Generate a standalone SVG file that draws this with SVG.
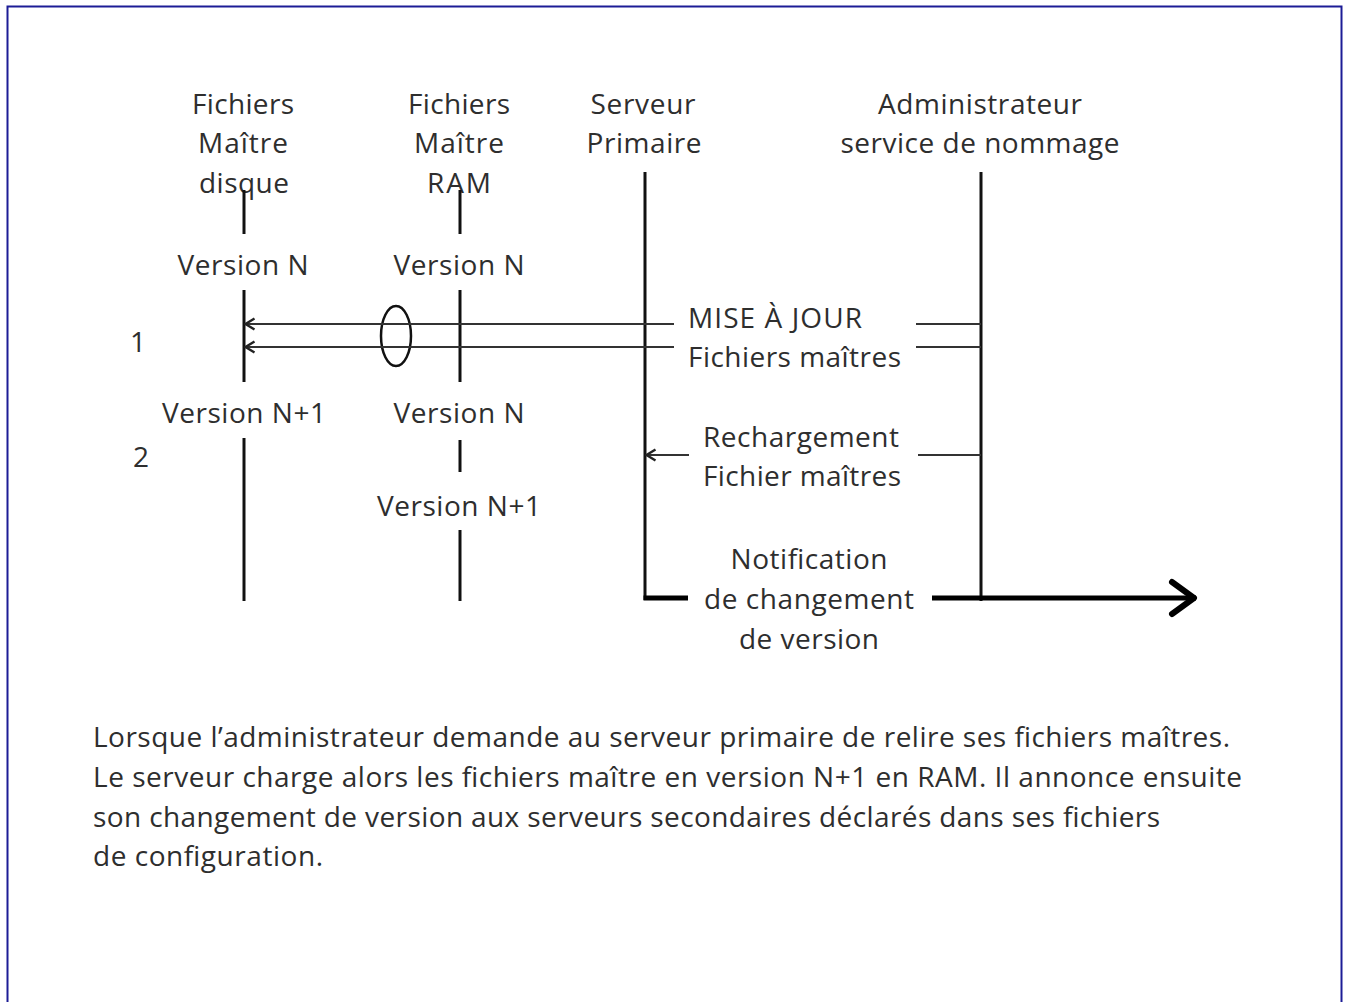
<svg xmlns="http://www.w3.org/2000/svg" width="1346" height="1002" viewBox="0 0 1346 1002">
<defs>
<style>
text{font-family:"Open Sans",Lato,"Liberation Sans",sans-serif;font-size:28px;fill:#2e2e2e}
.c{text-anchor:middle}
.life{stroke:#111;stroke-width:3;fill:none}
.thin{stroke:#333;stroke-width:1.8;fill:none}
.thick{stroke:#000;stroke-width:5;fill:none}
</style>
<marker id="open" viewBox="0 0 12 14" refX="11" refY="7" markerWidth="12" markerHeight="14" markerUnits="userSpaceOnUse" orient="auto">
<path d="M1.5,1.5 L10.5,7 L1.5,12.5" fill="none" stroke="#222" stroke-width="2.4"/>
</marker>
<marker id="big" viewBox="0 0 30 40" refX="28" refY="20" markerWidth="30" markerHeight="40" markerUnits="userSpaceOnUse" orient="auto">
<path d="M4,4 L26,20 L4,36" fill="none" stroke="#000" stroke-width="6" stroke-linecap="round" stroke-linejoin="round"/>
</marker>
</defs>
<rect x="7.5" y="6.5" width="1334" height="1010" fill="#fff" stroke="#1c1c96" stroke-width="2"/>

<g id="col-disque">
<text class="c" x="243" y="114" textLength="102">Fichiers</text>
<text class="c" x="243" y="153" textLength="90">Maître</text>
<text class="c" x="244" y="193" textLength="90">disque</text>
<line class="life" x1="244" y1="190" x2="244" y2="234"/>
<text class="c" x="243" y="275" textLength="131">Version N</text>
<line class="life" x1="244" y1="290" x2="244" y2="382"/>
<text class="c" x="244" y="423" textLength="164">Version N+1</text>
<line class="life" x1="244" y1="438" x2="244" y2="601"/>
</g>

<g id="col-ram">
<text class="c" x="459" y="114" textLength="102">Fichiers</text>
<text class="c" x="459" y="153" textLength="90">Maître</text>
<text class="c" x="459" y="193" textLength="64">RAM</text>
<line class="life" x1="460" y1="190" x2="460" y2="234"/>
<text class="c" x="459" y="275" textLength="131">Version N</text>
<line class="life" x1="460" y1="290" x2="460" y2="382"/>
<text class="c" x="459" y="423" textLength="131">Version N</text>
<line class="life" x1="460" y1="440" x2="460" y2="472"/>
<text class="c" x="459" y="516" textLength="164">Version N+1</text>
<line class="life" x1="460" y1="530" x2="460" y2="601"/>
</g>

<g id="col-serveur">
<text class="c" x="643" y="114" textLength="105">Serveur</text>
<text class="c" x="644" y="153" textLength="115">Primaire</text>
<line class="life" x1="645" y1="172" x2="645" y2="600"/>
</g>

<g id="col-admin">
<text class="c" x="980" y="114" textLength="204">Administrateur</text>
<text class="c" x="980" y="153" textLength="279">service de nommage</text>
<line class="life" x1="981" y1="172" x2="981" y2="601"/>
</g>

<g id="steps">
<text x="130" y="352">1</text>
<text x="133" y="467">2</text>
</g>

<g id="group-ellipse">
<ellipse cx="396" cy="336" rx="15" ry="30" fill="none" stroke="#111" stroke-width="2.5"/>
</g>

<g id="labels">
<text x="688" y="328" textLength="174">MISE À JOUR</text>
<text x="688" y="367" textLength="213">Fichiers maîtres</text>
<text x="703" y="447" textLength="196">Rechargement</text>
<text x="703" y="486" textLength="198">Fichier maîtres</text>
<text class="c" x="809" y="569" textLength="157">Notification</text>
<text class="c" x="809" y="609" textLength="210">de changement</text>
<text class="c" x="809" y="649" textLength="140">de version</text>
</g>

<g id="connectors">
<line class="thin" x1="674" y1="324" x2="245" y2="324" marker-end="url(#open)"/>
<line class="thin" x1="674" y1="347" x2="245" y2="347" marker-end="url(#open)"/>
<line class="thin" x1="916" y1="324" x2="981" y2="324"/>
<line class="thin" x1="916" y1="347" x2="981" y2="347"/>
<line class="thin" x1="689" y1="455" x2="646" y2="455" marker-end="url(#open)"/>
<line class="thin" x1="918" y1="455" x2="981" y2="455"/>
<line class="thick" x1="643.5" y1="598" x2="688" y2="598"/>
<line class="thick" x1="932" y1="598" x2="1196" y2="598" marker-end="url(#big)"/>
</g>

<g id="caption">
<text x="93" y="747" textLength="1137">Lorsque l’administrateur demande au serveur primaire de relire ses fichiers maîtres.</text>
<text x="93" y="787" textLength="1149">Le serveur charge alors les fichiers maître en version N+1 en RAM. Il annonce ensuite</text>
<text x="93" y="827" textLength="1067">son changement de version aux serveurs secondaires déclarés dans ses fichiers</text>
<text x="93" y="866" textLength="230">de configuration.</text>
</g>
</svg>
